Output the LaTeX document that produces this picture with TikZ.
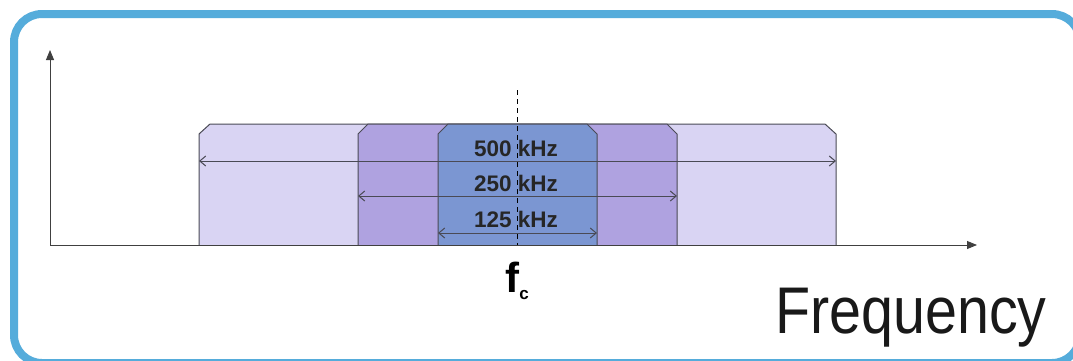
\documentclass[tikz,border=0pt]{standalone}
\usepackage{fontspec}
\setmainfont{Liberation Sans}
\usetikzlibrary{arrows.meta}
\definecolor{framecol}{HTML}{55ACDB}
\definecolor{bandA}{HTML}{D9D4F3}
\definecolor{bandB}{HTML}{AFA2E0}
\definecolor{bandC}{HTML}{7B96D2}
\definecolor{edgecol}{HTML}{4A4A55}
\tikzset{
  band/.style={draw=edgecol, line width=1pt},
  span/.style={draw=edgecol, line width=1pt, {Straight Barb[length=6pt,width=10pt]}-{Straight Barb[length=6pt,width=10pt]}},
  axis/.style={draw=black!75, line width=0.9pt, -{Triangle[length=10pt,width=8pt]}},
  khz/.style={font=\fontsize{22.5}{22.5}\selectfont\bfseries, text=black!85, inner sep=0pt},
}
\begin{document}
\begin{tikzpicture}[x=1pt,y=-1pt]
\useasboundingbox (0,0) rectangle (1073,360);
\fill[white] (0,0) rectangle (1073,360);
\begin{scope}
  \clip (0,0) rectangle (1073,360);
  \draw[framecol, line width=8pt, rounded corners=28pt] (14,14) rectangle (1080,363);
\end{scope}

% nested frequency bands with chamfered tops
\draw[band, fill=bandA] (199,245) -- (199,134) -- (210,124) -- (825,124) -- (836,134) -- (836,245);
\draw[band, fill=bandB] (358,245) -- (358,134) -- (368,124) -- (667,124) -- (677,134) -- (677,245);
\draw[band, fill=bandC] (438,245) -- (438,134) -- (448,124) -- (587,124) -- (597,134) -- (597,245);

% span markers
\coordinate (s1l) at (199,161); \coordinate (s1r) at (836,161);
\coordinate (s2l) at (358,196); \coordinate (s2r) at (677,196);
\coordinate (s3l) at (438,233); \coordinate (s3r) at (597,233);
\draw[span] (s1l) -- (s1r);
\draw[span] (s2l) -- (s2r);
\draw[span] (s3l) -- (s3r);

\node[khz] (k500) at (516,148) {500 kHz};
\node[khz] (k250) at (516,183) {250 kHz};
\node[khz] (k125) at (516,219) {125 kHz};

% axes
\coordinate (org) at (50,245);
\coordinate (ytop) at (50,50);
\coordinate (xend) at (977,245);
\draw[axis] (org) -- (ytop);
\draw[axis] (org) -- (xend);

% centre frequency marker
\coordinate (ctop) at (517,90);
\coordinate (cbot) at (517,245);
\draw[black, line width=1pt, dash pattern=on 5pt off 4pt] (ctop) -- (cbot);

\node[inner sep=0pt, anchor=base, font=\fontsize{42}{42}\selectfont\bfseries] (fc) at (517,292) {f\raisebox{-7pt}{\fontsize{17}{17}\selectfont c}};

\node[inner sep=0pt, anchor=base west, xscale=0.87, font=\fontsize{66}{66}\selectfont, text=black!90] (freq) at (775,333) {Frequency};
\end{tikzpicture}
\end{document}
